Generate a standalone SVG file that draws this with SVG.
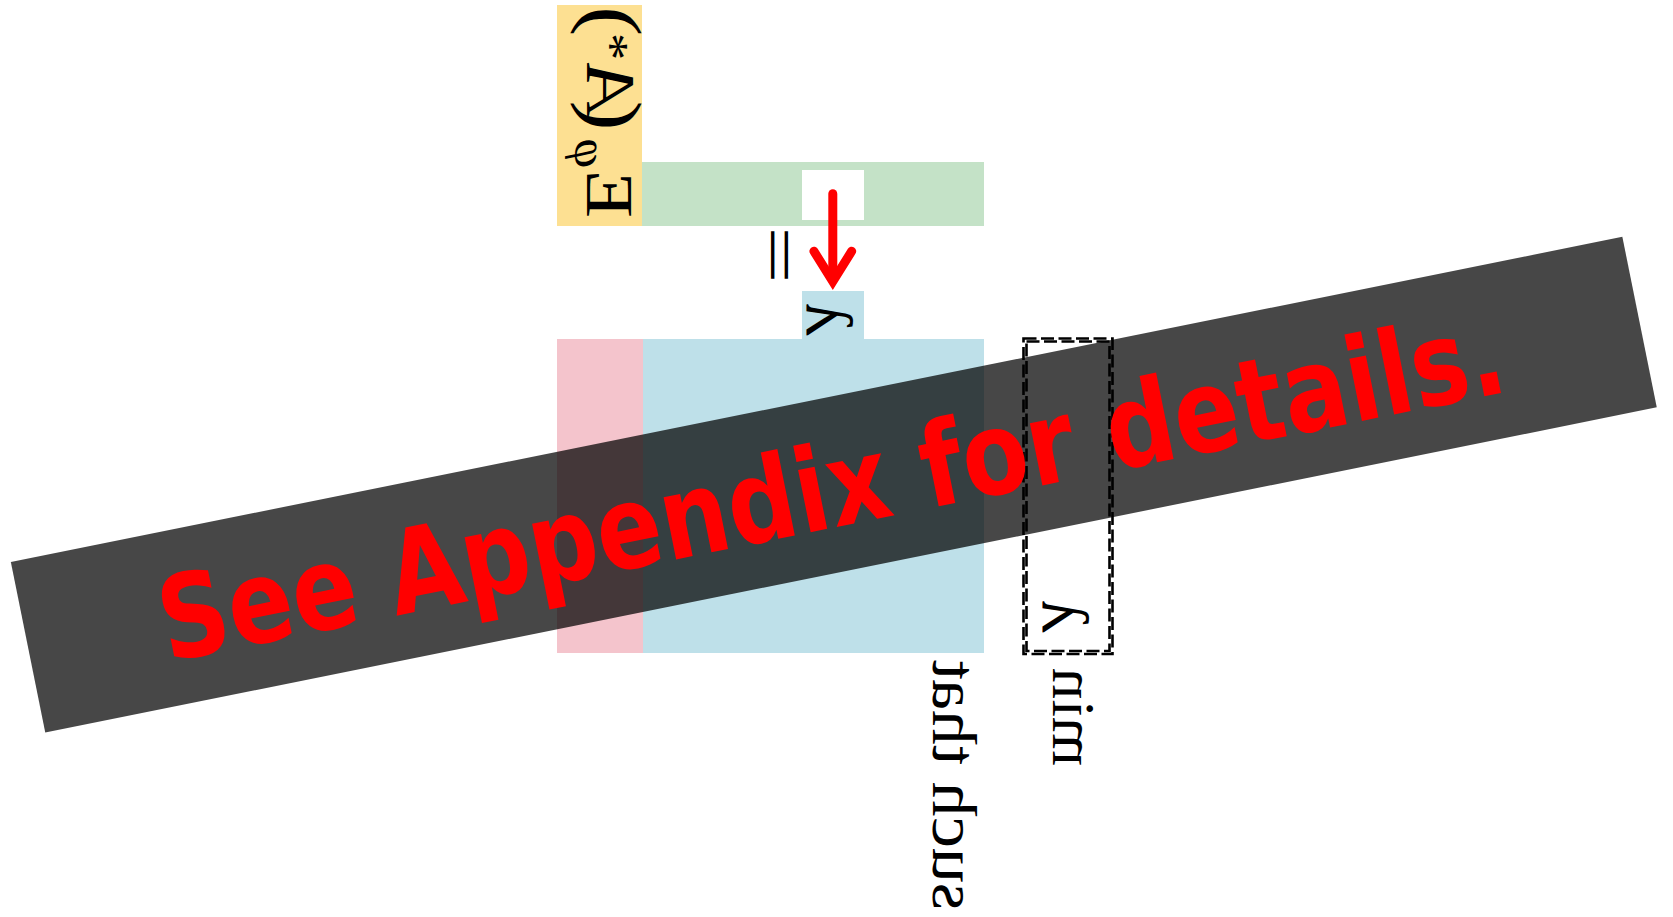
<svg xmlns="http://www.w3.org/2000/svg" width="1673" height="917" viewBox="0 0 1673 917">
<style>
.math{font-family:"Liberation Serif","DejaVu Serif",serif;fill:#000}
.it{font-style:italic}
.lbl{font-family:"Liberation Serif","DejaVu Serif",serif;fill:#000}
.dash{fill:none;stroke:#000;stroke-width:2.6;stroke-dasharray:13 4.5}
.banner-text{font-family:"DejaVu Sans","Liberation Sans",sans-serif;font-weight:bold;fill:#ff0000}
</style>
<defs>
<marker id="head" markerUnits="userSpaceOnUse" orient="auto" refX="0" refY="0" overflow="visible" markerWidth="1" markerHeight="1">
<path d="M-24.8,-18.9 L5.5,0 L-24.8,18.9" fill="none" stroke="#ff0000" stroke-width="9" stroke-linecap="round" stroke-linejoin="miter" stroke-miterlimit="10"/>
</marker>
</defs>
<rect width="1673" height="917" fill="#ffffff"/>

<g id="node-expect">
<rect x="557" y="5" width="85" height="221" fill="#fde092"/>
<text class="math" transform="matrix(0,-1.15,-1,0,587,218)" font-size="68"><tspan x="0" y="0">E</tspan><tspan class="it" x="43.5" y="12" font-size="46">φ</tspan><tspan x="76" y="0" font-size="78">(</tspan><tspan class="it" x="92" y="0" font-size="70">A</tspan><tspan x="137" y="-8" font-size="48">*</tspan><tspan x="158" y="0" font-size="78">)</tspan></text>
</g>

<g id="node-row">
<rect x="642" y="162" width="342" height="64" fill="#c4e2c7"/>
<rect x="802" y="170" width="62" height="50" fill="#ffffff"/>
</g>

<g id="node-eq">
<text class="math" transform="matrix(0,-1.5,-1,0,757,255)" font-size="68" text-anchor="middle">=</text>
</g>

<g id="node-lambda-cell">
<rect x="802" y="291" width="62" height="48" fill="#bee0e9"/>
<text class="math it" transform="matrix(0,-1.1,-1,0,807,318)" font-size="66" text-anchor="middle">λ</text>
</g>

<g id="node-pink">
<rect x="557" y="339" width="86" height="314" fill="#f4c4cc"/>
</g>

<g id="node-matrix">
<rect x="643" y="339" width="341" height="314" fill="#bee0e9"/>
<text class="lbl" transform="matrix(0,-1,-1,0,933,910)" font-size="64" textLength="250" lengthAdjust="spacingAndGlyphs">such that</text>
</g>

<g id="node-min">
<rect class="dash" x="1023.5" y="338.5" width="89" height="315.5"/>
<rect class="dash" x="1026.5" y="341.5" width="83" height="309.5"/>
<text class="math it" transform="matrix(0,-1.1,-1,0,1043,615)" font-size="66" text-anchor="middle">λ</text>
<text class="lbl" transform="matrix(0,-1,-1,0,1053,766)" font-size="62" textLength="98" lengthAdjust="spacingAndGlyphs">min</text>
</g>

<g id="connectors">
<path d="M832.8,193.8 L832.8,276" fill="none" stroke="#ff0000" stroke-width="9" stroke-linecap="round" marker-end="url(#head)"/>
</g>

<g id="banner" transform="translate(833.8,484.7) rotate(-11.41)">
<rect x="-822" y="-87" width="1644" height="174" fill="#000000" fill-opacity="0.72"/>
<text class="banner-text" x="-3" y="42" font-size="116" text-anchor="middle" textLength="1370" lengthAdjust="spacingAndGlyphs">See Appendix for details.</text>
</g>
</svg>
